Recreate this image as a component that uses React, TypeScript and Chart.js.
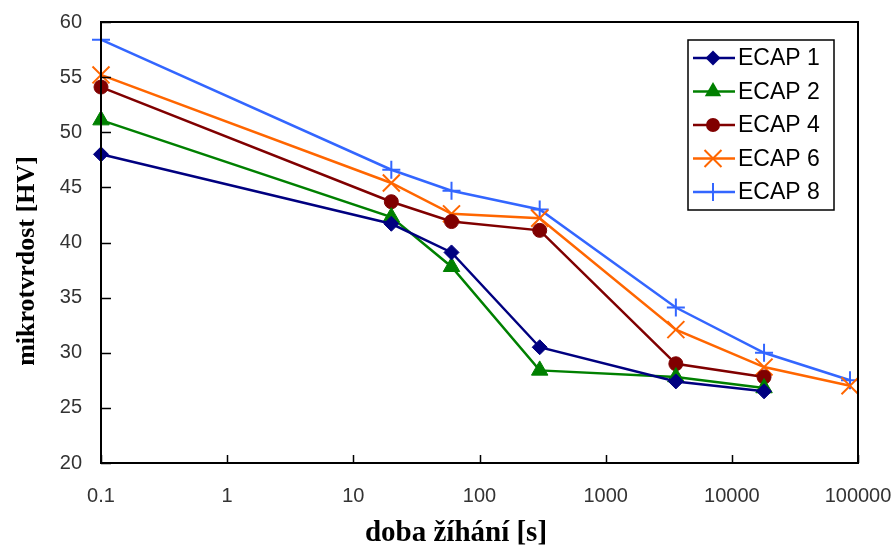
import React, { useEffect, useRef } from "react";
import { Chart, registerables } from "chart.js";

Chart.register(...registerables);

const times = [0.1, 20, 60, 300, 3600, 18000, 86400];
const ecap1 = [48.0, 41.7, 39.1, 30.5, 27.4, 26.5];
const ecap2 = [51.1, 42.3, 37.8, 28.4, 27.8, 26.8];
const ecap4 = [54.1, 43.7, 41.9, 41.1, 29.0, 27.8];
const ecap6 = [55.2, 45.4, 42.6, 42.2, 32.1, 28.7, 27.0];
const ecap8 = [58.4, 46.6, 44.7, 43.0, 34.1, 30.0, 27.5];
const seriesNames = ["ECAP 1", "ECAP 2", "ECAP 4", "ECAP 6", "ECAP 8"];
const xTickValues = [0.1, 1, 10, 100, 1000, 10000, 100000];
const xTickLabels = ["0.1", "1", "10", "100", "1000", "10000", "100000"];
const xTitle = "doba žíhání [s]";
const yTitle = "mikrotvrdost [HV]";

const toPoints = (vals: number[]) => vals.map((v, i) => ({ x: times[i], y: v }));

const styles = [
  { color: "#000080", point: "rectRot", radius: 7.5 },
  { color: "#008000", point: "triangle", radius: 9.5 },
  { color: "#800000", point: "circle", radius: 7 },
  { color: "#FF6600", point: "crossRot", radius: 12 },
  { color: "#3366FF", point: "cross", radius: 9 },
];

function drawMarker(ctx: CanvasRenderingContext2D, style: string, r: number, color: string, x: number, y: number) {
  ctx.save();
  ctx.fillStyle = color;
  ctx.strokeStyle = color;
  ctx.lineWidth = 2;
  ctx.beginPath();
  if (style === "rectRot") {
    ctx.moveTo(x, y - r);
    ctx.lineTo(x + r, y);
    ctx.lineTo(x, y + r);
    ctx.lineTo(x - r, y);
    ctx.closePath();
    ctx.fill();
  } else if (style === "triangle") {
    ctx.moveTo(x, y - r);
    ctx.lineTo(x + r * 0.866, y + r * 0.5);
    ctx.lineTo(x - r * 0.866, y + r * 0.5);
    ctx.closePath();
    ctx.fill();
  } else if (style === "circle") {
    ctx.arc(x, y, r, 0, Math.PI * 2);
    ctx.fill();
  } else if (style === "crossRot") {
    const d = r * 0.707;
    ctx.moveTo(x - d, y - d);
    ctx.lineTo(x + d, y + d);
    ctx.moveTo(x + d, y - d);
    ctx.lineTo(x - d, y + d);
    ctx.stroke();
  } else {
    ctx.moveTo(x - r, y);
    ctx.lineTo(x + r, y);
    ctx.moveTo(x, y - r);
    ctx.lineTo(x, y + r);
    ctx.stroke();
  }
  ctx.restore();
}

const decorPlugin = {
  id: "decor",
  afterDraw(chart: any) {
    const ctx = chart.ctx;
    const { left, right, top, bottom } = chart.chartArea;
    const xs = chart.scales.x;
    const ys = chart.scales.y;
    ctx.save();
    // frame
    ctx.strokeStyle = "#000";
    ctx.lineWidth = 2;
    ctx.strokeRect(left, top, right - left, bottom - top);
    // inner ticks
    ctx.lineWidth = 1.5;
    ctx.beginPath();
    for (const v of xTickValues) {
      const px = Math.round(xs.getPixelForValue(v)) + 0.5;
      ctx.moveTo(px, bottom);
      ctx.lineTo(px, bottom - 8);
    }
    for (let v = 20; v <= 60; v += 5) {
      const py = Math.round(ys.getPixelForValue(v)) + 0.5;
      ctx.moveTo(left, py);
      ctx.lineTo(left + 10, py);
    }
    ctx.stroke();
    // axis titles
    ctx.fillStyle = "#000";
    ctx.textAlign = "center";
    ctx.textBaseline = "alphabetic";
    ctx.font = "bold 29px 'Liberation Serif', 'Times New Roman', serif";
    ctx.fillText(xTitle, 456, 541);
    ctx.save();
    ctx.translate(34, 261);
    ctx.rotate(-Math.PI / 2);
    ctx.font = "bold 26px 'Liberation Serif', 'Times New Roman', serif";
    ctx.fillText(yTitle, 0, 0);
    ctx.restore();
    // legend
    const lx = 688, ly = 40, lw = 146, lh = 170;
    ctx.fillStyle = "#fff";
    ctx.fillRect(lx, ly, lw, lh);
    ctx.strokeStyle = "#000";
    ctx.lineWidth = 1.5;
    ctx.strokeRect(lx, ly, lw, lh);
    ctx.font = "23px 'Liberation Sans', Arial, sans-serif";
    ctx.textAlign = "left";
    ctx.textBaseline = "middle";
    chart.data.datasets.forEach((ds: any, i: number) => {
      const cy = ly + 18 + i * 33.5;
      ctx.strokeStyle = ds.borderColor;
      ctx.lineWidth = 2.5;
      ctx.beginPath();
      ctx.moveTo(lx + 5, cy);
      ctx.lineTo(lx + 47, cy);
      ctx.stroke();
      drawMarker(ctx, ds.pointStyle, ds.pointRadius, ds.borderColor, lx + 25, cy);
      ctx.fillStyle = "#000";
      ctx.fillText(ds.label, lx + 50, cy + 1);
    });
    ctx.restore();
  },
};

export default function App() {
  const ref = useRef<HTMLCanvasElement | null>(null);
  useEffect(() => {
    document.body.style.margin = "0";
    const canvas = ref.current!;
    const allData = [ecap1, ecap2, ecap4, ecap6, ecap8];
    const chart = new Chart(canvas, {
      type: "line",
      data: {
        datasets: allData.map((vals, i) => ({
          label: seriesNames[i],
          data: toPoints(vals),
          borderColor: styles[i].color,
          backgroundColor: styles[i].color,
          pointBackgroundColor: styles[i].color,
          pointBorderColor: styles[i].color,
          pointStyle: styles[i].point as any,
          pointRadius: styles[i].radius,
          pointBorderWidth: i >= 3 ? 2 : 1,
          borderWidth: 2.5,
          tension: 0,
          fill: false,
          clip: false as any,
        })),
      },
      options: {
        animation: false,
        responsive: false,
        devicePixelRatio: 1,
        layout: { padding: { top: 22, right: 38, left: 0, bottom: 0 } },
        plugins: { legend: { display: false }, tooltip: { enabled: false } },
        scales: {
          x: {
            type: "logarithmic",
            min: 0.1,
            max: 100000,
            grid: { display: false, drawTicks: false },
            border: { display: false },
            afterBuildTicks: (s: any) => {
              s.ticks = xTickValues.map((v) => ({ value: v }));
            },
            afterFit: (s: any) => {
              s.height = 83;
              s.paddingLeft = 0;
              s.paddingRight = 0;
            },
            ticks: {
              autoSkip: false,
              maxRotation: 0,
              padding: 21,
              color: "#333",
              font: { family: "'Liberation Sans', Arial, sans-serif", size: 20 },
              callback: (v: any) => {
                const idx = xTickValues.findIndex((t) => Math.abs(t - v) / t < 1e-6);
                return idx >= 0 ? xTickLabels[idx] : "";
              },
            },
          },
          y: {
            min: 20,
            max: 60,
            grid: { display: false, drawTicks: false },
            border: { display: false },
            afterFit: (s: any) => {
              s.width = 101;
              s.paddingTop = 0;
              s.paddingBottom = 0;
            },
            ticks: {
              stepSize: 5,
              padding: 19,
              color: "#333",
              font: { family: "'Liberation Sans', Arial, sans-serif", size: 20 },
            },
          },
        },
      },
      plugins: [decorPlugin],
    });
    return () => chart.destroy();
  }, []);
  return <canvas ref={ref} width={896} height={546} style={{ display: "block" }} />;
}
